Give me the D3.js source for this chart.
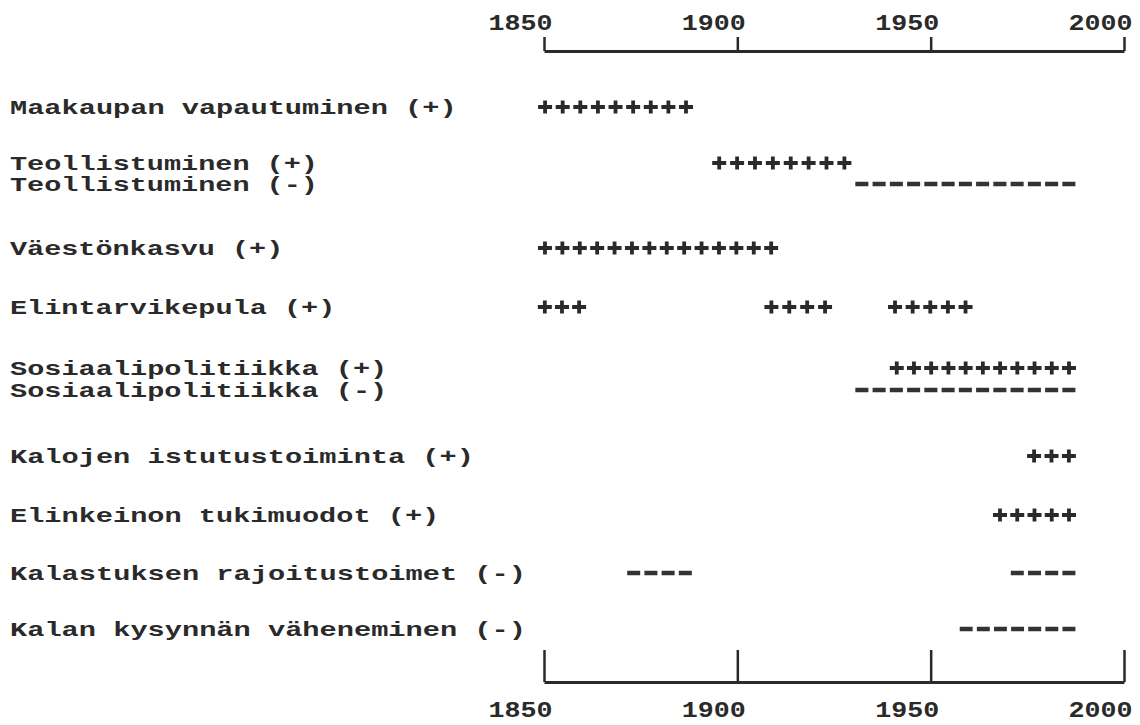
<!DOCTYPE html>
<html>
<head>
<meta charset="utf-8">
<script src="https://cdn.jsdelivr.net/npm/d3@7"></script>
<style>
  body { margin: 0; background: #fff; }
  text { font-family: "Liberation Mono", "Courier New", monospace; font-weight: bold; fill: #2a2a2a; }
</style>
</head>
<body>
<div id="chart"></div>
<script>
// factor rows (label, sign, and active periods in years)
var rowLabels = [
    "Maakaupan vapautuminen (+)",
    "Teollistuminen (+)",
    "Teollistuminen (-)",
    "Väestönkasvu (+)",
    "Elintarvikepula (+)",
    "Sosiaalipolitiikka (+)",
    "Sosiaalipolitiikka (-)",
    "Kalojen istutustoiminta (+)",
    "Elinkeinon tukimuodot (+)",
    "Kalastuksen rajoitustoimet (-)",
    "Kalan kysynnän väheneminen (-)"
];
var rowSigns = ["+", "+", "-", "+", "+", "+", "-", "+", "+", "-", "-"];
var rowPeriods = [
    [[1848, 1889]],
    [[1893, 1930]],
    [[1930, 1988]],
    [[1848, 1911]],
    [[1848, 1861.3], [1906.5, 1925], [1938.5, 1961.3]],
    [[1939, 1988]],
    [[1930, 1988]],
    [[1974.5, 1988]],
    [[1965.7, 1988]],
    [[1871, 1888.8], [1970.2, 1988]],
    [[1957, 1988]]
];
var yearTicks = [1850, 1900, 1950, 2000];

var width = 1140, height = 725;
var svg = d3.select('#chart').append('svg').attr('width', width).attr('height', height);

var x = d3.scaleLinear().domain([1850, 2000]).range([544, 1124]);

// row centres, grouped like the original (pairs sit closer together)
var rowY = [107, 163, 184, 248, 307, 368, 390, 456, 515, 573, 629];
var cellW = 17.33;

// labels, stretched to the typewriter pitch of the original
svg.selectAll('text.label')
    .data(rowLabels)
    .enter()
    .append('text')
    .attr('class', 'label')
    .attr('x', 10)
    .attr('y', function(d, i) { return rowY[i] + 7; })
    .attr('textLength', function(d) { return d.length * cellW - 4; })
    .attr('lengthAdjust', 'spacingAndGlyphs')
    .style('font-size', '21px')
    .text(function(d) { return d; });

// flatten periods into segments
var segs = [];
rowPeriods.forEach(function(periods, i) {
    periods.forEach(function(p) {
        segs.push({ row: i, sign: rowSigns[i], from: p[0], to: p[1] });
    });
});

segs.forEach(function(s) {
    var x0 = x(s.from), x1 = x(s.to);
    var n = Math.max(1, Math.round((x1 - x0) / cellW));
    var w = (x1 - x0) / n;
    var cy = rowY[s.row];
    if (s.sign === '-') {
        svg.append('line')
            .attr('x1', x0 + 2).attr('x2', x1 - 2)
            .attr('y1', cy).attr('y2', cy)
            .attr('stroke', '#333')
            .attr('stroke-width', 4.5)
            .attr('stroke-dasharray', (w - 4.2) + ' 4.2');
    } else {
        svg.append('g').selectAll('path')
            .data(d3.range(n))
            .enter()
            .append('path')
            .attr('d', function(i) {
                var cx = x0 + (i + 0.5) * w;
                return 'M' + (cx - 7) + ',' + cy + 'H' + (cx + 7) +
                       'M' + cx + ',' + (cy - 6.5) + 'V' + (cy + 6.5);
            })
            .attr('stroke', '#2a2a2a')
            .attr('stroke-width', 3.8)
            .attr('fill', 'none');
    }
});

// top axis
var topAxis = svg.append('g')
    .attr('transform', 'translate(0,51)')
    .call(d3.axisTop(x).tickValues(yearTicks).tickFormat(d3.format('d')).tickSize(14).tickSizeOuter(0));
// bottom axis, ticks pointing up
var botAxis = svg.append('g')
    .attr('transform', 'translate(0,682)')
    .call(d3.axisBottom(x).tickValues(yearTicks).tickFormat(d3.format('d')).tickSize(-32).tickSizeOuter(0));

[topAxis, botAxis].forEach(function(ax) {
    ax.select('.domain').attr('stroke', '#2a2a2a').attr('stroke-width', 3);
    ax.selectAll('.tick line').attr('stroke', '#2a2a2a').attr('stroke-width', 2.5);
    ax.selectAll('.tick text')
        .attr('fill', '#2a2a2a')
        .attr('text-anchor', 'end')
        .attr('x', 8)
        .attr('textLength', 64)
        .attr('lengthAdjust', 'spacingAndGlyphs')
        .style('font-size', '22px');
});
topAxis.selectAll('.tick text').attr('y', -21).attr('dy', 0);
botAxis.selectAll('.tick text').attr('y', 35).attr('dy', 0);
</script>
</body>
</html>
